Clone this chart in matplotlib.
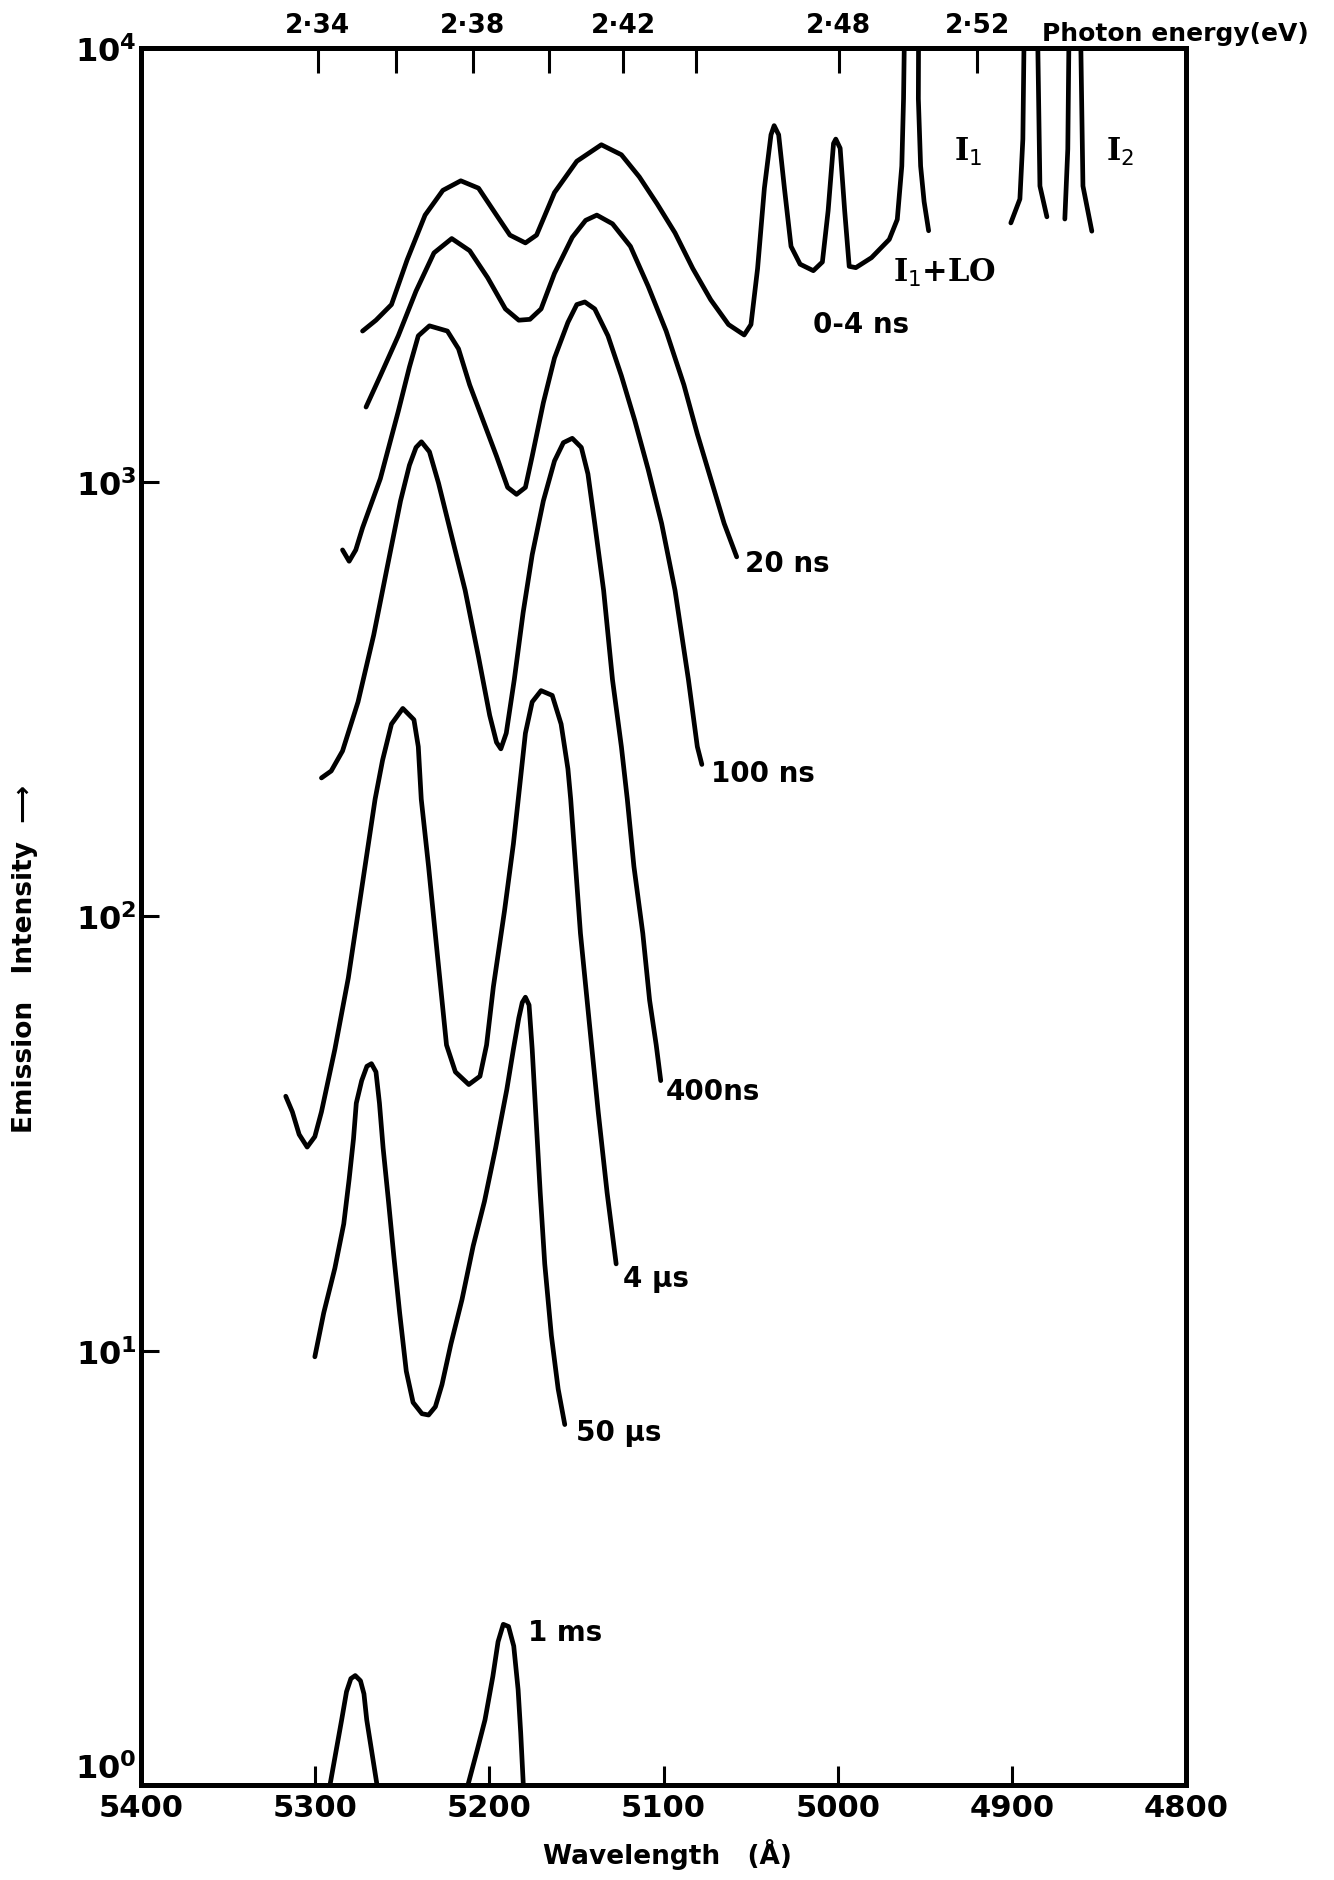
import numpy as np
import matplotlib
matplotlib.use("Agg")
import matplotlib.pyplot as plt
from matplotlib.ticker import NullLocator

# wavelength (Angstrom) and log10(emission intensity)
wl_0_4ns = [5272.8, 5265.1, 5256.2, 5247.2, 5236.9, 5226.7, 5216.4, 5206.2, 5195.9,
            5188.2, 5179.3, 5172.9, 5162.6, 5149.8, 5135.7, 5124.2, 5113.9, 5103.7,
            5093.4, 5083.2, 5072.9, 5062.7, 5053.7, 5049.8, 5046.0, 5042.1, 5038.3,
            5036.5, 5033.9, 5030.6, 5026.8, 5021.6, 5014.0, 5008.8, 5005.5, 5002.4,
            5001.1, 4998.6, 4996.0, 4993.4, 4989.6, 4980.6, 4970.4, 4965.8, 4963.2,
            4962.2, 4961.8]
lg_0_4ns = [3.348, 3.373, 3.409, 3.512, 3.615, 3.672, 3.694, 3.677, 3.615,
            3.569, 3.551, 3.569, 3.667, 3.739, 3.777, 3.754, 3.703, 3.641,
            3.574, 3.492, 3.420, 3.363, 3.339, 3.363, 3.492, 3.677, 3.800,
            3.821, 3.800, 3.677, 3.543, 3.502, 3.487, 3.507, 3.625, 3.780,
            3.790, 3.769, 3.625, 3.497, 3.494, 3.517, 3.559, 3.605, 3.728,
            3.883, 4.0]

# right flank of I1+LO line, and the I1 / I2 lines (off scale at top)
wl_i1lo = [4953.6, 4953.7, 4952.4, 4950.4, 4947.8]
lg_i1lo = [4.0, 3.883, 3.728, 3.646, 3.579]
wl_i1_left = [4900.6, 4895.4, 4893.7, 4893.1, 4893.0]
lg_i1_left = [3.597, 3.652, 3.790, 3.991, 4.0]
wl_i1_right = [4885.1, 4883.9, 4879.9]
lg_i1_right = [4.0, 3.682, 3.611]
wl_i2_left = [4869.6, 4867.9, 4867.3]
lg_i2_left = [3.606, 3.767, 4.0]
wl_i2_right = [4860.4, 4859.2, 4854.1]
lg_i2_right = [4.0, 3.682, 3.578]

wl_20ns = [5270.8, 5262.6, 5252.3, 5242.1, 5231.8, 5221.6, 5211.3, 5201.0, 5190.8,
           5183.1, 5176.7, 5170.3, 5162.6, 5152.4, 5144.7, 5138.3, 5129.3, 5119.0,
           5108.8, 5098.5, 5088.3, 5080.6, 5072.9, 5065.2, 5058.0]
lg_20ns = [3.173, 3.245, 3.337, 3.440, 3.528, 3.561, 3.533, 3.471, 3.399,
           3.373, 3.375, 3.399, 3.481, 3.564, 3.603, 3.615, 3.595, 3.543,
           3.451, 3.348, 3.224, 3.111, 3.008, 2.905, 2.828]

wl_100ns = [5284.3, 5280.5, 5276.7, 5272.8, 5262.6, 5252.3, 5245.9, 5240.8, 5234.4,
            5224.1, 5217.7, 5211.3, 5203.6, 5195.9, 5189.5, 5184.4, 5179.3, 5175.4,
            5169.0, 5162.6, 5154.9, 5149.8, 5145.2, 5139.5, 5131.9, 5124.2, 5116.5,
            5108.8, 5101.1, 5093.4, 5085.7, 5080.6, 5078.0]
lg_100ns = [2.844, 2.818, 2.844, 2.895, 3.008, 3.163, 3.265, 3.337, 3.360,
            3.348, 3.307, 3.224, 3.142, 3.060, 2.988, 2.972, 2.988, 3.060,
            3.183, 3.286, 3.368, 3.409, 3.415, 3.399, 3.337, 3.245, 3.142,
            3.029, 2.905, 2.751, 2.545, 2.391, 2.350]

wl_400ns = [5296.4, 5290.8, 5284.3, 5275.4, 5266.4, 5258.7, 5251.0, 5245.9, 5242.1,
            5239.0, 5234.4, 5229.2, 5221.6, 5213.9, 5206.2, 5199.8, 5195.9, 5193.4,
            5190.3, 5185.7, 5180.6, 5175.4, 5169.0, 5162.6, 5157.5, 5152.4, 5147.2,
            5143.4, 5139.5, 5134.4, 5129.3, 5124.2, 5120.8, 5117.0, 5111.9, 5108.0,
            5104.2, 5101.6]
lg_400ns = [2.319, 2.335, 2.381, 2.494, 2.648, 2.803, 2.957, 3.039, 3.080,
            3.093, 3.070, 2.998, 2.875, 2.751, 2.597, 2.463, 2.401, 2.386,
            2.422, 2.545, 2.700, 2.833, 2.957, 3.049, 3.091, 3.101, 3.080,
            3.019, 2.905, 2.751, 2.545, 2.391, 2.270, 2.115, 1.961, 1.807,
            1.704, 1.622]

wl_4us = [5316.9, 5313.1, 5309.2, 5304.6, 5300.2, 5296.4, 5288.7, 5281.0, 5273.3,
          5265.6, 5261.3, 5256.2, 5249.7, 5243.3, 5240.8, 5239.1, 5234.9, 5229.8,
          5224.6, 5219.5, 5211.8, 5205.4, 5201.6, 5197.7, 5191.3, 5186.2, 5183.4,
          5179.3, 5175.4, 5170.3, 5163.9, 5158.8, 5154.9, 5153.3, 5147.7, 5142.6,
          5137.5, 5132.4, 5128.5, 5127.2]
lg_4us = [1.586, 1.550, 1.498, 1.469, 1.493, 1.550, 1.694, 1.858, 2.064,
          2.270, 2.360, 2.443, 2.479, 2.453, 2.391, 2.270, 2.115, 1.910,
          1.704, 1.642, 1.613, 1.632, 1.704, 1.838, 2.013, 2.167, 2.270,
          2.422, 2.494, 2.520, 2.509, 2.443, 2.340, 2.270, 1.961, 1.755,
          1.550, 1.364, 1.241, 1.200]

wl_50us = [5300.2, 5295.1, 5288.7, 5283.6, 5280.5, 5278.0, 5276.4, 5273.3, 5270.3,
           5267.7, 5265.1, 5263.1, 5261.0, 5257.9, 5254.9, 5251.5, 5247.7, 5243.8,
           5238.7, 5234.9, 5231.0, 5227.2, 5222.1, 5215.7, 5209.3, 5202.8, 5196.4,
           5190.0, 5186.2, 5183.1, 5181.1, 5179.3, 5177.2, 5175.4, 5173.4, 5170.8,
           5168.2, 5164.4, 5160.5, 5156.7]
lg_50us = [0.986, 1.087, 1.190, 1.292, 1.395, 1.488, 1.570, 1.622, 1.655,
           1.661, 1.642, 1.570, 1.467, 1.344, 1.220, 1.087, 0.953, 0.881,
           0.855, 0.852, 0.871, 0.922, 1.015, 1.118, 1.241, 1.344, 1.467,
           1.601, 1.694, 1.766, 1.802, 1.814, 1.796, 1.694, 1.550, 1.364,
           1.200, 1.035, 0.912, 0.830]

wl_1ms_a = [5291.5, 5284.8, 5282.0, 5279.5, 5277.0, 5274.0, 5272.0, 5270.4, 5264.5]
lg_1ms_a = [0.0, 0.150, 0.215, 0.245, 0.252, 0.240, 0.210, 0.150, 0.0]
wl_1ms_b = [5212.3, 5207.0, 5202.5, 5198.0, 5195.0, 5192.0, 5189.0, 5186.0, 5183.5,
            5182.0, 5180.5]
lg_1ms_b = [0.0, 0.080, 0.150, 0.250, 0.330, 0.370, 0.365, 0.320, 0.220,
            0.120, 0.0]

wl_ticks = [5400, 5300, 5200, 5100, 5000, 4900, 4800]
ev_ticks = [2.34, 2.36, 2.38, 2.40, 2.42, 2.44, 2.48, 2.52]
ev_labels = ["2·34", "", "2·38", "", "2·42", "", "2·48", "2·52"]
y_ticks = [1, 10, 100, 1000, 10000]
y_labels = [r"$\mathbf{10^{0}}$", r"$\mathbf{10^{1}}$", r"$\mathbf{10^{2}}$",
            r"$\mathbf{10^{3}}$", r"$\mathbf{10^{4}}$"]

fig = plt.figure(figsize=(13.34, 18.81), dpi=100)
ax = fig.add_axes([0.1057, 0.0505, 0.7834, 0.9235])

lw = 3.4
curves = [
    (wl_0_4ns, lg_0_4ns), (wl_i1lo, lg_i1lo),
    (wl_i1_left, lg_i1_left), (wl_i1_right, lg_i1_right),
    (wl_i2_left, lg_i2_left), (wl_i2_right, lg_i2_right),
    (wl_20ns, lg_20ns), (wl_100ns, lg_100ns), (wl_400ns, lg_400ns),
    (wl_4us, lg_4us), (wl_50us, lg_50us),
    (wl_1ms_a, lg_1ms_a), (wl_1ms_b, lg_1ms_b),
]
for wl, lg in curves:
    ax.plot(wl, 10 ** np.array(lg), color="black", lw=lw,
            solid_joinstyle="round", solid_capstyle="round")

ax.set_yscale("log")
ax.set_xlim(5400, 4800)
ax.set_ylim(1, 10000)
ax.yaxis.set_minor_locator(NullLocator())

ax.set_xticks(wl_ticks)
ax.set_xticklabels([str(t) for t in wl_ticks], fontsize=22, fontweight="bold")
ax.set_yticks(y_ticks)
ax.set_yticklabels(y_labels, fontsize=23)
ax.get_yticklabels()[0].set_verticalalignment("bottom")
ax.tick_params(axis="x", direction="in", length=14, width=2.2, pad=6)
ax.tick_params(axis="y", direction="in", length=13, width=2.2, pad=3)
for sp in ax.spines.values():
    sp.set_linewidth(3.6)

top = ax.secondary_xaxis("top", functions=(lambda l: 12398.4 / l,
                                           lambda e: 12398.4 / e))
top.set_xticks(ev_ticks)
top.set_xticklabels(ev_labels, fontsize=19, fontweight="bold")
top.xaxis.set_minor_locator(NullLocator())
top.tick_params(direction="in", length=18, width=2.2, pad=7)
top.spines["top"].set_linewidth(3.6)

fig.text(0.781, 0.982, "Photon energy(eV)", fontsize=18, fontweight="bold",
         ha="left", va="center")

lab = dict(fontsize=20, fontweight="bold", ha="left", va="center")
ilab = dict(fontsize=22, family="DejaVu Serif", fontweight="bold",
            ha="left", va="center")
ax.text(5014, 10 ** 3.364, "0-4 ns", **lab)
ax.text(4968, 10 ** 3.484, "I$_1$+LO", **ilab)
ax.text(4933, 10 ** 3.763, "I$_1$", **ilab)
ax.text(4846, 10 ** 3.763, "I$_2$", **ilab)
ax.text(5053, 10 ** 2.813, "20 ns", **lab)
ax.text(5073, 10 ** 2.330, "100 ns", **lab)
ax.text(5099, 10 ** 1.597, "400ns", **lab)
ax.text(5123, 10 ** 1.168, "4 μs", **lab)
ax.text(5150, 10 ** 0.813, "50 μs", **lab)
ax.text(5178, 10 ** 0.353, "1 ms", **lab)

fig.text(0.019, 0.49, "Emission   Intensity  ⟶", rotation=90, fontsize=19,
         fontweight="bold", ha="center", va="center")
fig.text(0.50, 0.014, "Wavelength   (Å)", fontsize=19, fontweight="bold",
         ha="center", va="center")

fig.savefig("out.png", dpi=100, facecolor="white")
